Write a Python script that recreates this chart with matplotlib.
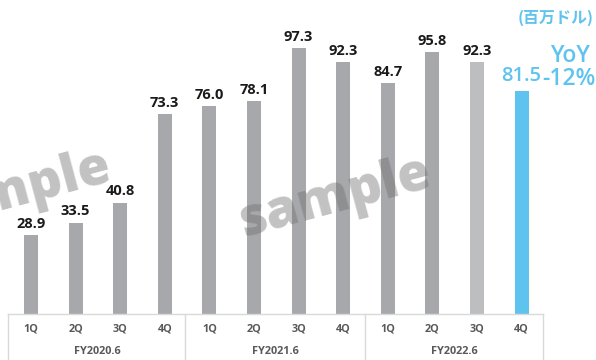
import numpy as np
import matplotlib.pyplot as plt

# quarterly sales, million USD
quarters = ['1Q', '2Q', '3Q', '4Q'] * 3
years = ['FY2020.6', 'FY2021.6', 'FY2022.6']
sales = [28.9, 33.5, 40.8, 73.3, 76.0, 78.1, 97.3, 92.3, 84.7, 95.8, 92.3, 81.5]
value_labels = ['28.9', '33.5', '40.8', '73.3', '76.0', '78.1', '97.3', '92.3',
                '84.7', '95.8', '92.3', '81.5']

gray = '#a7a8ac'
light_gray = '#bcbec0'
blue = '#5ec3ee'
colors = [gray] * 10 + [light_gray, blue]

W, H = 596, 360
fig = plt.figure(figsize=(W / 100, H / 100), dpi=100)
ax = fig.add_axes([8 / W, 46 / H, 535 / W, 314 / H])

x = np.arange(len(sales))
ax.bar(x, sales, width=0.314, color=colors, zorder=2)
ax.set_xlim(-0.516, 11.48)
ax.set_ylim(0, 115)
ax.axis('off')

for i, (v, s) in enumerate(zip(sales, value_labels)):
    if i == len(sales) - 1:
        ax.annotate(s, (i, v), xytext=(0, 4), textcoords='offset points',
                    ha='center', va='bottom', fontsize=14.5, color=blue,
                    family='Open Sans', fontweight='semibold')
    else:
        ax.annotate(s, (i, v), xytext=(0, 3), textcoords='offset points',
                    ha='center', va='bottom', fontsize=10.5, color='#1a1a1a',
                    family='Open Sans', fontweight='bold')

# category axis: baseline, separators, quarter and year labels
def fx(px):
    return px / W

def fy(py):
    return 1 - py / H

line_c = '#d9d9d9'
fig.add_artist(plt.Line2D([fx(8), fx(543)], [fy(314), fy(314)], color=line_c, lw=1))
for px in [8, 185, 365, 543]:
    fig.add_artist(plt.Line2D([fx(px), fx(px)], [fy(314), 0], color=line_c, lw=1))

for i, q in enumerate(quarters):
    px = 31 + 44.6 * i
    fig.text(fx(px), fy(329), q, ha='center', va='center', fontsize=7.8,
             color='#595959', family='Open Sans', fontweight='bold')
for j, yr in enumerate(years):
    px = [97, 275, 454][j]
    fig.text(fx(px), fy(351), yr, ha='center', va='center', fontsize=7.8,
             color='#595959', family='Open Sans', fontweight='bold')

# unit and year-over-year note
fig.text(fx(556), fy(18), '(百万ドル)', ha='center', va='center', fontsize=11.5,
         color=blue, family=['Noto Sans CJK JP', 'DejaVu Sans'], fontweight='bold')
fig.text(fx(570), fy(56), 'YoY', ha='center', va='center', fontsize=16.5,
         color=blue, family='Open Sans', fontweight='semibold')
fig.text(fx(542), fy(79), '-12%', ha='left', va='center', fontsize=16.5,
         color=blue, family='Open Sans', fontweight='semibold')

# watermark
for cx, cy in [(15, 192), (335, 198)]:
    fig.text(fx(cx), fy(cy), 'sample', ha='center', va='center', fontsize=38,
             color='#6e6e6e', alpha=0.42, rotation=15, family='Open Sans',
             fontweight='heavy', zorder=5)

fig.savefig('out.png', dpi=100)
